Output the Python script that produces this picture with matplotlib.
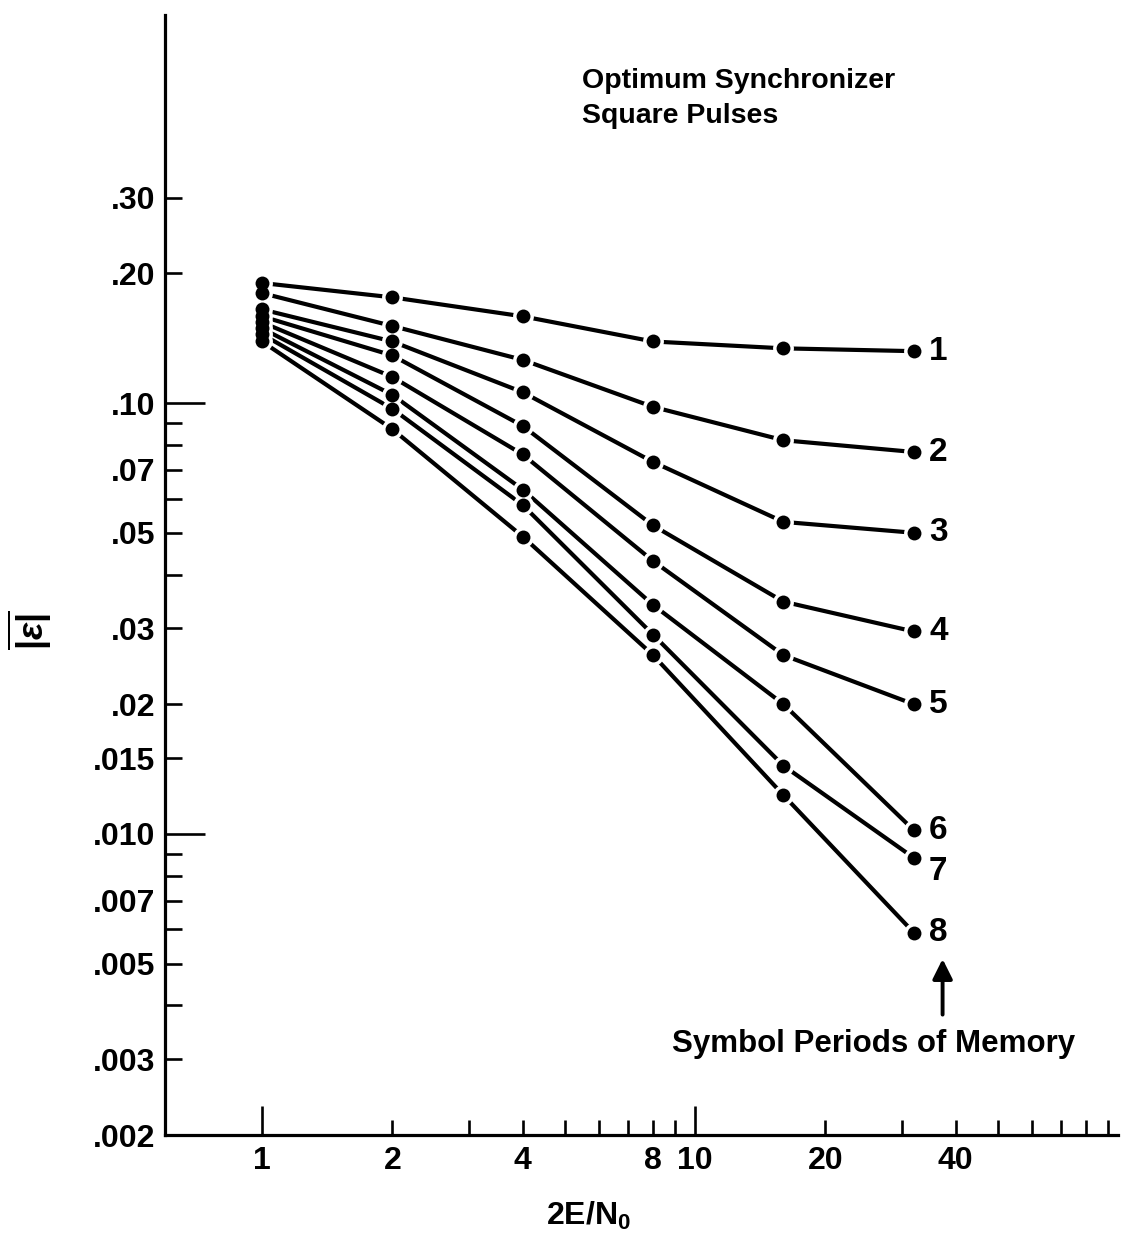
import matplotlib
matplotlib.use("Agg")
import matplotlib.pyplot as plt

plt.rcParams['font.family'] = ['Liberation Sans', 'DejaVu Sans']
plt.rcParams['font.weight'] = 'bold'
plt.rcParams['mathtext.fontset'] = 'custom'
plt.rcParams['mathtext.rm'] = 'Liberation Sans:bold'
plt.rcParams['mathtext.it'] = 'Liberation Sans:italic:bold'
plt.rcParams['mathtext.bf'] = 'Liberation Sans:bold'

# 2E/N0 (eje x) y |e| medio por memoria de 1 a 8 periodos de simbolo
snr = [1, 2, 4, 8, 16, 32]
mem_1 = [0.190, 0.176, 0.159, 0.139, 0.134, 0.132]
mem_2 = [0.180, 0.151, 0.126, 0.098, 0.082, 0.077]
mem_3 = [0.165, 0.139, 0.106, 0.073, 0.053, 0.050]
mem_4 = [0.159, 0.129, 0.0885, 0.052, 0.0346, 0.0295]
mem_5 = [0.154, 0.115, 0.076, 0.043, 0.026, 0.020]
mem_6 = [0.149, 0.1045, 0.063, 0.034, 0.020, 0.0102]
mem_7 = [0.1445, 0.097, 0.058, 0.029, 0.0144, 0.0088]
mem_8 = [0.139, 0.087, 0.049, 0.026, 0.0123, 0.0059]
series = [mem_1, mem_2, mem_3, mem_4, mem_5, mem_6, mem_7, mem_8]
etiquetas = ['1', '2', '3', '4', '5', '6', '7', '8']

x_major = [1, 10]
x_major_lab = ['1', '10']
x_minor = [2, 3, 4, 5, 6, 7, 8, 9, 20, 30, 40, 50, 60, 70, 80, 90]
x_minor_lab = ['2', '', '4', '', '', '', '8', '', '20', '', '40', '', '', '', '', '']

y_major = [0.01, 0.1]
y_major_lab = ['.010', '.10']
y_minor = [0.002, 0.003, 0.004, 0.005, 0.006, 0.007, 0.008, 0.009, 0.015, 0.02,
           0.03, 0.04, 0.05, 0.06, 0.07, 0.08, 0.09, 0.2, 0.3]
y_minor_lab = ['.002', '.003', '', '.005', '', '.007', '', '', '.015', '.02',
               '.03', '', '.05', '', '.07', '', '', '.20', '.30']

W, H = 1124, 1235
fig = plt.figure(figsize=(W / 100, H / 100), dpi=100)
ax = fig.add_axes([165 / W, 100 / H, 953 / W, 1120 / H])
ax.set_xscale('log')
ax.set_yscale('log')
ax.set_xlim(0.597, 94.8)
ax.set_ylim(0.002, 0.796)

for s, lab in zip(series, etiquetas):
    ax.plot(snr, s, color='black', lw=3.0, zorder=2, solid_capstyle='butt')
    ax.plot(snr, s, 'o', ms=15, color='white', mec='none', zorder=3)
    ax.plot(snr, s, 'o', ms=10, color='black', mec='none', zorder=4)
    dy = -10 if lab == '7' else 0
    ax.annotate(lab, xy=(snr[-1], s[-1]), xytext=(11, dy), textcoords='offset points',
                va='center', ha='left', fontsize=24, fontweight='bold')

ax.set_xticks(x_major, x_major_lab)
ax.set_xticks(x_minor, x_minor_lab, minor=True)
ax.set_yticks(y_major, y_major_lab)
ax.set_yticks(y_minor, y_minor_lab, minor=True)

ax.tick_params(axis='x', which='major', direction='in', length=21, width=1.9, pad=8, labelsize=23)
ax.tick_params(axis='x', which='minor', direction='in', length=11, width=1.9, pad=8, labelsize=23)
ax.tick_params(axis='y', which='major', direction='in', length=29, width=1.9, pad=7, labelsize=23)
ax.tick_params(axis='y', which='minor', direction='in', length=12, width=1.9, pad=7, labelsize=23)

for lado in ['top', 'right']:
    ax.spines[lado].set_visible(False)
for lado in ['left', 'bottom']:
    ax.spines[lado].set_linewidth(2.3)

# flecha y nota
ax.annotate('', xy=(37.3, 0.0052), xytext=(37.3, 0.00375),
            arrowprops=dict(arrowstyle='-|>', lw=2.8, color='black', mutation_scale=30))
ax.text(25.9, 0.00312, 'Symbol Periods of Memory', ha='center', va='baseline', fontsize=22.5)

fig.text(582 / W, 1 - 88 / H, 'Optimum Synchronizer', ha='left', va='baseline', fontsize=20.5)
fig.text(582 / W, 1 - 123 / H, 'Square Pulses', ha='left', va='baseline', fontsize=20.5)

fig.text(30 / W, 1 - 630 / H, r'$\overline{|\varepsilon|}$', rotation=90,
         ha='center', va='center', fontsize=26)
fig.text(588 / W, 1 - 1216 / H, r'2E/N$_0$', ha='center', va='center', fontsize=23)

fig.savefig('out.png', dpi=100)
